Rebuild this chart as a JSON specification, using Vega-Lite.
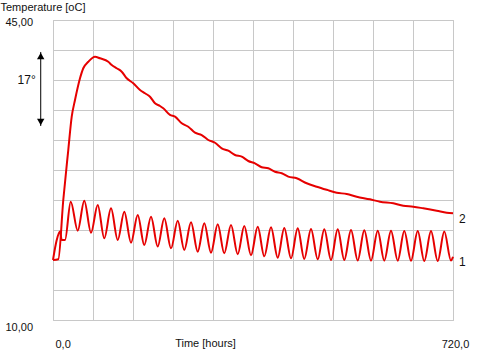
{
  "$schema": "https://vega.github.io/schema/vega-lite/v6.json",
  "autosize": "none",
  "width": 400,
  "height": 300,
  "padding": {"left": 53, "top": 20, "right": 48, "bottom": 37},
  "background": "white",
  "config": {
    "view": {"stroke": "#c0c0c0", "strokeWidth": 1},
    "font": "Liberation Sans",
    "axis": {"labelFont": "Liberation Sans", "titleFont": "Liberation Sans", "labelFontSize": 11, "titleFontSize": 11, "labelColor": "#111", "titleColor": "#111", "titleFontWeight": "normal"}
  },
  "datasets": {
    "curves": [
      {"series": "1", "hour": 0, "temp": 17.0},
      {"series": "1", "hour": 6.7, "temp": 19.33},
      {"series": "1", "hour": 12.6, "temp": 20.33},
      {"series": "1", "hour": 15.7, "temp": 19.33},
      {"series": "1", "hour": 21.6, "temp": 19.33},
      {"series": "1", "hour": 31.9, "temp": 23.8},
      {"series": "1", "hour": 44.5, "temp": 20.42},
      {"series": "1", "hour": 56.3, "temp": 23.92},
      {"series": "1", "hour": 68.4, "temp": 20.18},
      {"series": "1", "hour": 80.5, "temp": 23.42},
      {"series": "1", "hour": 92.3, "temp": 19.53},
      {"series": "1", "hour": 104.4, "temp": 23.03},
      {"series": "1", "hour": 116.5, "temp": 19.33},
      {"series": "1", "hour": 128.3, "temp": 22.63},
      {"series": "1", "hour": 140.4, "temp": 19.02},
      {"series": "1", "hour": 152.5, "temp": 22.25},
      {"series": "1", "hour": 164.3, "temp": 18.75},
      {"series": "1", "hour": 176.4, "temp": 22.05},
      {"series": "1", "hour": 188.5, "temp": 18.57},
      {"series": "1", "hour": 200.3, "temp": 21.86},
      {"series": "1", "hour": 212.4, "temp": 18.36},
      {"series": "1", "hour": 224.5, "temp": 21.58},
      {"series": "1", "hour": 236.3, "temp": 18.17},
      {"series": "1", "hour": 248.4, "temp": 21.4},
      {"series": "1", "hour": 260.5, "temp": 17.97},
      {"series": "1", "hour": 272.3, "temp": 21.28},
      {"series": "1", "hour": 284.4, "temp": 17.85},
      {"series": "1", "hour": 296.5, "temp": 21.16},
      {"series": "1", "hour": 308.3, "temp": 17.78},
      {"series": "1", "hour": 320.4, "temp": 21.08},
      {"series": "1", "hour": 332.5, "temp": 17.67},
      {"series": "1", "hour": 344.3, "temp": 20.97},
      {"series": "1", "hour": 356.4, "temp": 17.55},
      {"series": "1", "hour": 368.5, "temp": 20.88},
      {"series": "1", "hour": 380.3, "temp": 17.43},
      {"series": "1", "hour": 392.4, "temp": 20.81},
      {"series": "1", "hour": 404.5, "temp": 17.27},
      {"series": "1", "hour": 416.3, "temp": 20.73},
      {"series": "1", "hour": 428.4, "temp": 17.2},
      {"series": "1", "hour": 440.5, "temp": 20.7},
      {"series": "1", "hour": 452.3, "temp": 17.12},
      {"series": "1", "hour": 464.4, "temp": 20.62},
      {"series": "1", "hour": 476.5, "temp": 17.08},
      {"series": "1", "hour": 488.3, "temp": 20.58},
      {"series": "1", "hour": 500.4, "temp": 17.0},
      {"series": "1", "hour": 512.5, "temp": 20.58},
      {"series": "1", "hour": 524.3, "temp": 17.0},
      {"series": "1", "hour": 536.4, "temp": 20.5},
      {"series": "1", "hour": 548.5, "temp": 16.94},
      {"series": "1", "hour": 560.3, "temp": 20.47},
      {"series": "1", "hour": 572.4, "temp": 16.92},
      {"series": "1", "hour": 584.5, "temp": 20.42},
      {"series": "1", "hour": 596.3, "temp": 16.92},
      {"series": "1", "hour": 608.4, "temp": 20.42},
      {"series": "1", "hour": 620.5, "temp": 16.92},
      {"series": "1", "hour": 632.3, "temp": 20.38},
      {"series": "1", "hour": 644.4, "temp": 16.92},
      {"series": "1", "hour": 656.5, "temp": 20.38},
      {"series": "1", "hour": 668.3, "temp": 16.88},
      {"series": "1", "hour": 680.4, "temp": 20.38},
      {"series": "1", "hour": 692.5, "temp": 16.88},
      {"series": "1", "hour": 704.3, "temp": 20.32},
      {"series": "1", "hour": 716.4, "temp": 16.94},
      {"series": "1", "hour": 720, "temp": 17.38},
      {"series": "2", "hour": 0, "temp": 17.0},
      {"series": "2", "hour": 9.5, "temp": 17.08},
      {"series": "2", "hour": 18.5, "temp": 24.0},
      {"series": "2", "hour": 27.5, "temp": 29.83},
      {"series": "2", "hour": 33.7, "temp": 33.72},
      {"series": "2", "hour": 39.6, "temp": 35.67},
      {"series": "2", "hour": 48.6, "temp": 38.2},
      {"series": "2", "hour": 54.5, "temp": 39.37},
      {"series": "2", "hour": 63.5, "temp": 40.13},
      {"series": "2", "hour": 75.6, "temp": 40.72},
      {"series": "2", "hour": 84.6, "temp": 40.53},
      {"series": "2", "hour": 99.5, "temp": 40.13},
      {"series": "2", "hour": 105.7, "temp": 39.75},
      {"series": "2", "hour": 114.7, "temp": 39.37},
      {"series": "2", "hour": 123.7, "temp": 38.97},
      {"series": "2", "hour": 132.7, "temp": 38.2},
      {"series": "2", "hour": 144.5, "temp": 37.62},
      {"series": "2", "hour": 156.6, "temp": 36.83},
      {"series": "2", "hour": 165.6, "temp": 36.45},
      {"series": "2", "hour": 174.6, "temp": 36.05},
      {"series": "2", "hour": 183.6, "temp": 35.28},
      {"series": "2", "hour": 192.6, "temp": 34.97},
      {"series": "2", "hour": 198.5, "temp": 34.7},
      {"series": "2", "hour": 210.6, "temp": 33.92},
      {"series": "2", "hour": 219.6, "temp": 33.72},
      {"series": "2", "hour": 231.7, "temp": 32.95},
      {"series": "2", "hour": 243.5, "temp": 32.55},
      {"series": "2", "hour": 255.6, "temp": 31.85},
      {"series": "2", "hour": 267.7, "temp": 31.58},
      {"series": "2", "hour": 279.5, "temp": 31.0},
      {"series": "2", "hour": 291.6, "temp": 30.68},
      {"series": "2", "hour": 303.7, "temp": 30.03},
      {"series": "2", "hour": 315.5, "temp": 29.75},
      {"series": "2", "hour": 327.6, "temp": 29.25},
      {"series": "2", "hour": 339.7, "temp": 29.05},
      {"series": "2", "hour": 351.5, "temp": 28.55},
      {"series": "2", "hour": 363.6, "temp": 28.28},
      {"series": "2", "hour": 375.7, "temp": 27.82},
      {"series": "2", "hour": 387.5, "temp": 27.7},
      {"series": "2", "hour": 399.6, "temp": 27.3},
      {"series": "2", "hour": 411.7, "temp": 27.12},
      {"series": "2", "hour": 423.5, "temp": 26.72},
      {"series": "2", "hour": 438.7, "temp": 26.53},
      {"series": "2", "hour": 456.7, "temp": 25.95},
      {"series": "2", "hour": 474.7, "temp": 25.55},
      {"series": "2", "hour": 492.7, "temp": 25.19},
      {"series": "2", "hour": 510.7, "temp": 24.85},
      {"series": "2", "hour": 528.7, "temp": 24.7},
      {"series": "2", "hour": 546.7, "temp": 24.38},
      {"series": "2", "hour": 570.6, "temp": 24.08},
      {"series": "2", "hour": 588.6, "temp": 23.8},
      {"series": "2", "hour": 612.5, "temp": 23.62},
      {"series": "2", "hour": 630.5, "temp": 23.33},
      {"series": "2", "hour": 648.5, "temp": 23.22},
      {"series": "2", "hour": 666.5, "temp": 23.03},
      {"series": "2", "hour": 690.7, "temp": 22.75},
      {"series": "2", "hour": 708.7, "temp": 22.52},
      {"series": "2", "hour": 720, "temp": 22.45}
    ],
    "endLabels": [
      {"hour": 731, "temp": 21.78, "label": "2"},
      {"hour": 731, "temp": 16.77, "label": "1"}
    ],
    "arrow": [
      {"hour": -22.1, "top": 41.27, "bottom": 32.63, "label": "17°", "mid": 38.0, "labelHour": -31}
    ]
  },
  "layer": [
    {
      "data": {"name": "curves"},
      "mark": {"type": "line", "color": "#e60000", "strokeWidth": 2, "clip": false, "interpolate": "monotone"},
      "encoding": {
        "x": {
          "field": "hour", "type": "quantitative",
          "scale": {"domain": [0, 720], "nice": false, "zero": false},
          "axis": {
            "values": [0, 72, 144, 216, 288, 360, 432, 504, 576, 648, 720],
            "tickCount": 50,
            "grid": true, "gridColor": "#c8c8c8", "gridOpacity": 1,
            "domain": false, "ticks": false,
            "labelExpr": "datum.value == 0 ? '0,0' : (datum.value == 720 ? '720,0' : '')",
            "labelAlign": {"condition": {"test": "datum.value == 720", "value": "center"}, "value": "left"},
            "labelOffset": 2,
            "labelPadding": 18,
            "labelBaseline": "top",
            "labelFlush": false,
            "labelOverlap": false,
            "title": "Time [hours]",
            "titleX": 152, "titleY": 23,
            "titleAlign": "center", "titleBaseline": "middle"
          }
        },
        "y": {
          "field": "temp", "type": "quantitative",
          "scale": {"domain": [10, 45], "nice": false, "zero": false},
          "axis": {
            "values": [10, 13.5, 17, 20.5, 24, 27.5, 31, 34.5, 38, 41.5, 45],
            "tickCount": 50,
            "grid": true, "gridColor": "#c8c8c8", "gridOpacity": 1,
            "domain": false, "ticks": false,
            "labelExpr": "datum.value == 10 ? '10,00' : (datum.value == 45 ? '45,00' : '')",
            "labelAlign": "left",
            "labelPadding": 48,
            "labelBaseline": "middle",
            "labelOffset": {"condition": {"test": "datum.value == 45", "value": 2}, "value": 7},
            "labelFlush": false,
            "labelOverlap": false,
            "title": "Temperature [oC]",
            "titleAngle": 0,
            "titleX": -53, "titleY": -13,
            "titleAlign": "left", "titleBaseline": "middle"
          }
        },
        "detail": {"field": "series"}
      }
    },
    {
      "data": {"name": "endLabels"},
      "mark": {"type": "text", "align": "left", "baseline": "middle", "fontSize": 12, "color": "#111", "font": "Liberation Sans"},
      "encoding": {
        "x": {"field": "hour", "type": "quantitative"},
        "y": {"field": "temp", "type": "quantitative"},
        "text": {"field": "label"}
      }
    },
    {
      "data": {"name": "arrow"},
      "mark": {"type": "rule", "color": "black", "strokeWidth": 1},
      "encoding": {
        "x": {"field": "hour", "type": "quantitative"},
        "y": {"field": "top", "type": "quantitative"},
        "y2": {"field": "bottom"}
      }
    },
    {
      "data": {"name": "arrow"},
      "mark": {"type": "point", "shape": "triangle-up", "filled": true, "color": "black", "size": 55, "opacity": 1, "yOffset": 4},
      "encoding": {
        "x": {"field": "hour", "type": "quantitative"},
        "y": {"field": "top", "type": "quantitative"}
      }
    },
    {
      "data": {"name": "arrow"},
      "mark": {"type": "point", "shape": "triangle-down", "filled": true, "color": "black", "size": 55, "opacity": 1, "yOffset": -4},
      "encoding": {
        "x": {"field": "hour", "type": "quantitative"},
        "y": {"field": "bottom", "type": "quantitative"}
      }
    },
    {
      "data": {"name": "arrow"},
      "mark": {"type": "text", "align": "right", "baseline": "middle", "fontSize": 12, "color": "#111", "font": "Liberation Sans"},
      "encoding": {
        "x": {"field": "labelHour", "type": "quantitative"},
        "y": {"field": "mid", "type": "quantitative"},
        "text": {"field": "label"}
      }
    }
  ]
}
